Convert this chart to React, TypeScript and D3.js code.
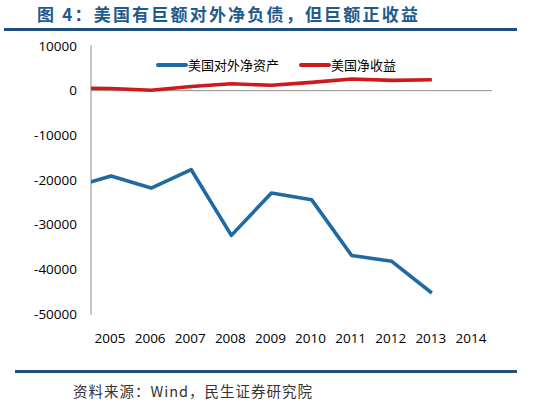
import React, { useEffect, useRef } from 'react'
import * as d3 from 'd3'

// years shown on the axis; 2004 is only there so the lines run into the y-axis
const years: number[] = [2004, 2005, 2006, 2007, 2008, 2009, 2010, 2011, 2012, 2013]
const tickYears: number[] = [2005, 2006, 2007, 2008, 2009, 2010, 2011, 2012, 2013, 2014]
const netAssets: number[] = [-21700, -19100, -21800, -17700, -32400, -22900, -24400, -36900, -38200, -45300]
const netIncome: number[] = [600, 500, 100, 950, 1550, 1200, 1850, 2600, 2300, 2450]
const yTicks: number[] = [10000, 0, -10000, -20000, -30000, -40000, -50000]
const seriesNames: string[] = ['美国对外净资产', '美国净收益']
const seriesColors: string[] = ['#1f6aa3', '#cc1a1d']

const W = 540
const H = 412
const margin = { top: 46, right: 48, bottom: 97, left: 91 }
const innerW = W - margin.left - margin.right
const innerH = H - margin.top - margin.bottom

export default function App() {
    const ref = useRef<SVGSVGElement>(null)

    useEffect(() => {
        const svg = d3.select(ref.current)
        svg.selectAll('*').remove()

        // header
        svg.append('text')
            .attr('x', 37)
            .attr('y', 21)
            .attr('font-family', '"Noto Sans CJK SC"')
            .attr('font-size', 17)
            .attr('font-weight', 'bold')
            .attr('letter-spacing', 2.2)
            .attr('fill', '#1f5b8c')
            .text('图 4：美国有巨额对外净负债，但巨额正收益')

        svg.append('rect')
            .attr('x', 4).attr('y', 28)
            .attr('width', 513).attr('height', 3)
            .attr('fill', '#1f4f7c')

        svg.append('rect')
            .attr('x', 15).attr('y', 370)
            .attr('width', 502).attr('height', 3)
            .attr('fill', '#1f4f7c')

        svg.append('text')
            .attr('x', 73)
            .attr('y', 397)
            .attr('font-family', '"Noto Sans CJK SC"')
            .attr('font-size', 14.5)
            .attr('letter-spacing', 1)
            .attr('fill', '#333')
            .text('资料来源：Wind，民生证券研究院')

        const g = svg.append('g')
            .attr('transform', `translate(${margin.left}, ${margin.top})`)

        const x = d3.scaleLinear()
            .domain([2004.5, 2014.5])
            .range([0, 401])
        const y = d3.scaleLinear()
            .domain([-50000, 10000])
            .range([innerH - 1, 0])

        // y tick labels
        g.selectAll('.ylab')
            .data(yTicks)
            .enter().append('text')
            .attr('class', 'ylab')
            .attr('x', -14)
            .attr('y', (d: number) => y(d))
            .attr('dy', '0.35em')
            .attr('text-anchor', 'end')
            .attr('font-family', '"Open Sans"')
            .attr('font-size', 13.5)
            .attr('fill', '#000')
            .text((d: number) => d)

        // x tick labels
        g.selectAll('.xlab')
            .data(tickYears)
            .enter().append('text')
            .attr('class', 'xlab')
            .attr('x', (d: number) => x(d) - 1)
            .attr('y', innerH + 23)
            .attr('dy', '0.35em')
            .attr('text-anchor', 'middle')
            .attr('font-family', '"Open Sans"')
            .attr('font-size', 13.5)
            .attr('fill', '#000')
            .text((d: number) => d)

        // axes lines
        g.append('line')
            .attr('x1', 0).attr('x2', 0)
            .attr('y1', y(10000) - 1).attr('y2', innerH)
            .attr('stroke', '#8c8c8c')
        g.append('line')
            .attr('x1', 0).attr('x2', x(2014.5))
            .attr('y1', y(0)).attr('y2', y(0))
            .attr('stroke', '#8c8c8c')

        g.append('clipPath')
            .attr('id', 'plot-clip')
            .append('rect')
            .attr('x', 0).attr('y', -10)
            .attr('width', innerW + 20).attr('height', innerH + 20)

        const line = d3.line<number>()
            .x((_d: number, i: number) => x(years[i]))
            .y((d: number) => y(d))

        const series = [netAssets, netIncome]
        series.forEach((s, i) => {
            g.append('path')
                .datum(s)
                .attr('clip-path', 'url(#plot-clip)')
                .attr('fill', 'none')
                .attr('stroke', seriesColors[i])
                .attr('stroke-width', 3.6)
                .attr('stroke-linejoin', 'round')
                .attr('d', line)
        })

        // legend
        const legendX = [158, 301]
        seriesNames.forEach((name, i) => {
            const lg = svg.append('g')
                .attr('transform', `translate(${legendX[i]}, 65)`)
            lg.append('line')
                .attr('x1', 0).attr('x2', 28)
                .attr('y1', 0).attr('y2', 0)
                .attr('stroke', seriesColors[i])
                .attr('stroke-width', 4)
                .attr('stroke-linecap', 'round')
            lg.append('text')
                .attr('x', 30)
                .attr('y', 0)
                .attr('dy', '0.36em')
                .attr('font-family', '"Noto Sans CJK SC"')
                .attr('font-size', 13)
                .attr('fill', '#000')
                .text(name)
        })
    }, [])

    return (
        <svg
            ref={ref}
            width={W}
            height={H}
            style={{ position: 'absolute', left: 0, top: 0, background: '#fff' }}
        />
    )
}
